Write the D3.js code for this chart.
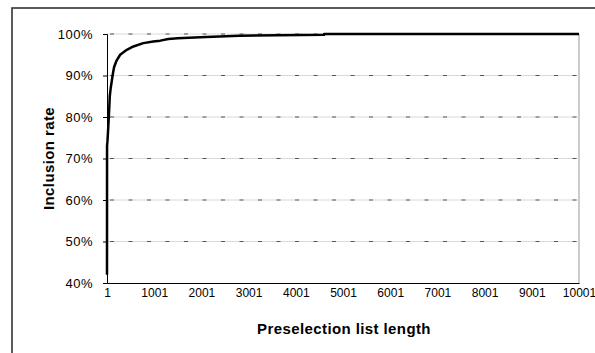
<!DOCTYPE html>
<html>
<head>
<meta charset="utf-8">
<script src="https://cdn.jsdelivr.net/npm/d3@7"></script>
<style>
  body { margin: 0; background: #fff; }
  svg { display: block; font-family: "Liberation Sans", Arial, sans-serif; }
</style>
</head>
<body>
<div id="chart"></div>
<script>
// Inclusion rate vs preselection list length
const listLength = [1, 2, 5, 10, 20, 30, 40, 60, 80, 100, 120, 150, 200, 280, 350, 420, 560, 770, 980, 1130, 1300, 1500, 2100, 2800, 4600, 4601, 10001];
const inclusionRate = [0.42, 0.73, 0.735, 0.74, 0.76, 0.78, 0.80, 0.85, 0.87, 0.885, 0.90, 0.92, 0.935, 0.95, 0.956, 0.962, 0.970, 0.978, 0.982, 0.984, 0.988, 0.990, 0.993, 0.996, 0.998, 1.0, 1.0];
const yTicks = [0.4, 0.5, 0.6, 0.7, 0.8, 0.9, 1.0];
const xTicks = [1, 1001, 2001, 3001, 4001, 5001, 6001, 7001, 8001, 9001, 10001];

const W = 595, H = 353;
const margin = { top: 34, right: 16, bottom: 70, left: 107 };
const width = W - margin.left - margin.right,
      height = H - margin.top - margin.bottom;

const svg = d3.select("#chart").append("svg")
    .attr("width", W)
    .attr("height", H);

// outer chart frame (runs off the right and bottom edge)
svg.append("rect")
    .attr("x", 12).attr("y", 8)
    .attr("width", W + 10).attr("height", H + 10)
    .attr("fill", "none")
    .attr("stroke", "#333")
    .attr("stroke-width", 1.6);

const g = svg.append("g")
    .attr("transform", `translate(${margin.left},${margin.top})`);

const x = d3.scaleLinear().domain([1, 10001]).range([0, width]);
const y = d3.scaleLinear().domain([0.4, 1.0]).range([height, 0]);

// plot area right border
g.append("line")
    .attr("x1", width).attr("x2", width)
    .attr("y1", 0).attr("y2", height)
    .attr("stroke", "#999");

// gridlines: light line with dark dashes
const grid = g.append("g").attr("class", "grid");
grid.selectAll("line.base")
  .data(yTicks.slice(1))
  .enter().append("line")
    .attr("class", "base")
    .attr("x1", 0).attr("x2", width)
    .attr("y1", d => y(d)).attr("y2", d => y(d))
    .attr("stroke", "#dcd8d4")
    .attr("stroke-width", 1);
grid.selectAll("line.dash")
  .data(yTicks.slice(1))
  .enter().append("line")
    .attr("class", "dash")
    .attr("x1", 0).attr("x2", width)
    .attr("y1", d => y(d)).attr("y2", d => y(d))
    .attr("stroke", "#555")
    .attr("stroke-width", 1)
    .attr("stroke-dasharray", "4,14.5")
    .attr("stroke-dashoffset", -3);

// y axis
const yAxis = g.append("g")
    .call(d3.axisLeft(y).tickValues(yTicks).tickFormat(d3.format(".0%")).tickSize(4).tickPadding(10));
yAxis.select(".domain").attr("stroke", "#000");
yAxis.selectAll(".tick line").attr("stroke", "#000");
yAxis.selectAll("text")
    .attr("font-size", 13)
    .attr("letter-spacing", 0.5)
    .attr("fill", "#000");

// x axis
const xAxis = g.append("g")
    .attr("transform", `translate(0,${height})`)
    .call(d3.axisBottom(x).tickValues(xTicks).tickFormat(d3.format("d")).tickSize(0).tickPadding(5.5));
xAxis.select(".domain").attr("stroke", "#000");
xAxis.selectAll("text")
    .attr("font-size", 12)
    .attr("fill", "#000");

// curve
const line = d3.line()
    .x((d, i) => x(listLength[i]))
    .y(d => y(d));
g.append("path")
    .datum(inclusionRate)
    .attr("fill", "none")
    .attr("stroke", "#000")
    .attr("stroke-width", 2.5)
    .attr("stroke-linejoin", "round")
    .attr("d", line);

// axis titles
svg.append("text")
    .attr("x", 344)
    .attr("y", 334)
    .attr("text-anchor", "middle")
    .attr("font-size", 15)
    .attr("letter-spacing", 0.4)
    .attr("font-weight", "bold")
    .text("Preselection list length");

svg.append("text")
    .attr("transform", `translate(53.5,${margin.top + height / 2}) rotate(-90)`)
    .attr("text-anchor", "middle")
    .attr("font-size", 15)
    .attr("letter-spacing", 0.4)
    .attr("font-weight", "bold")
    .text("Inclusion rate");
</script>
</body>
</html>
